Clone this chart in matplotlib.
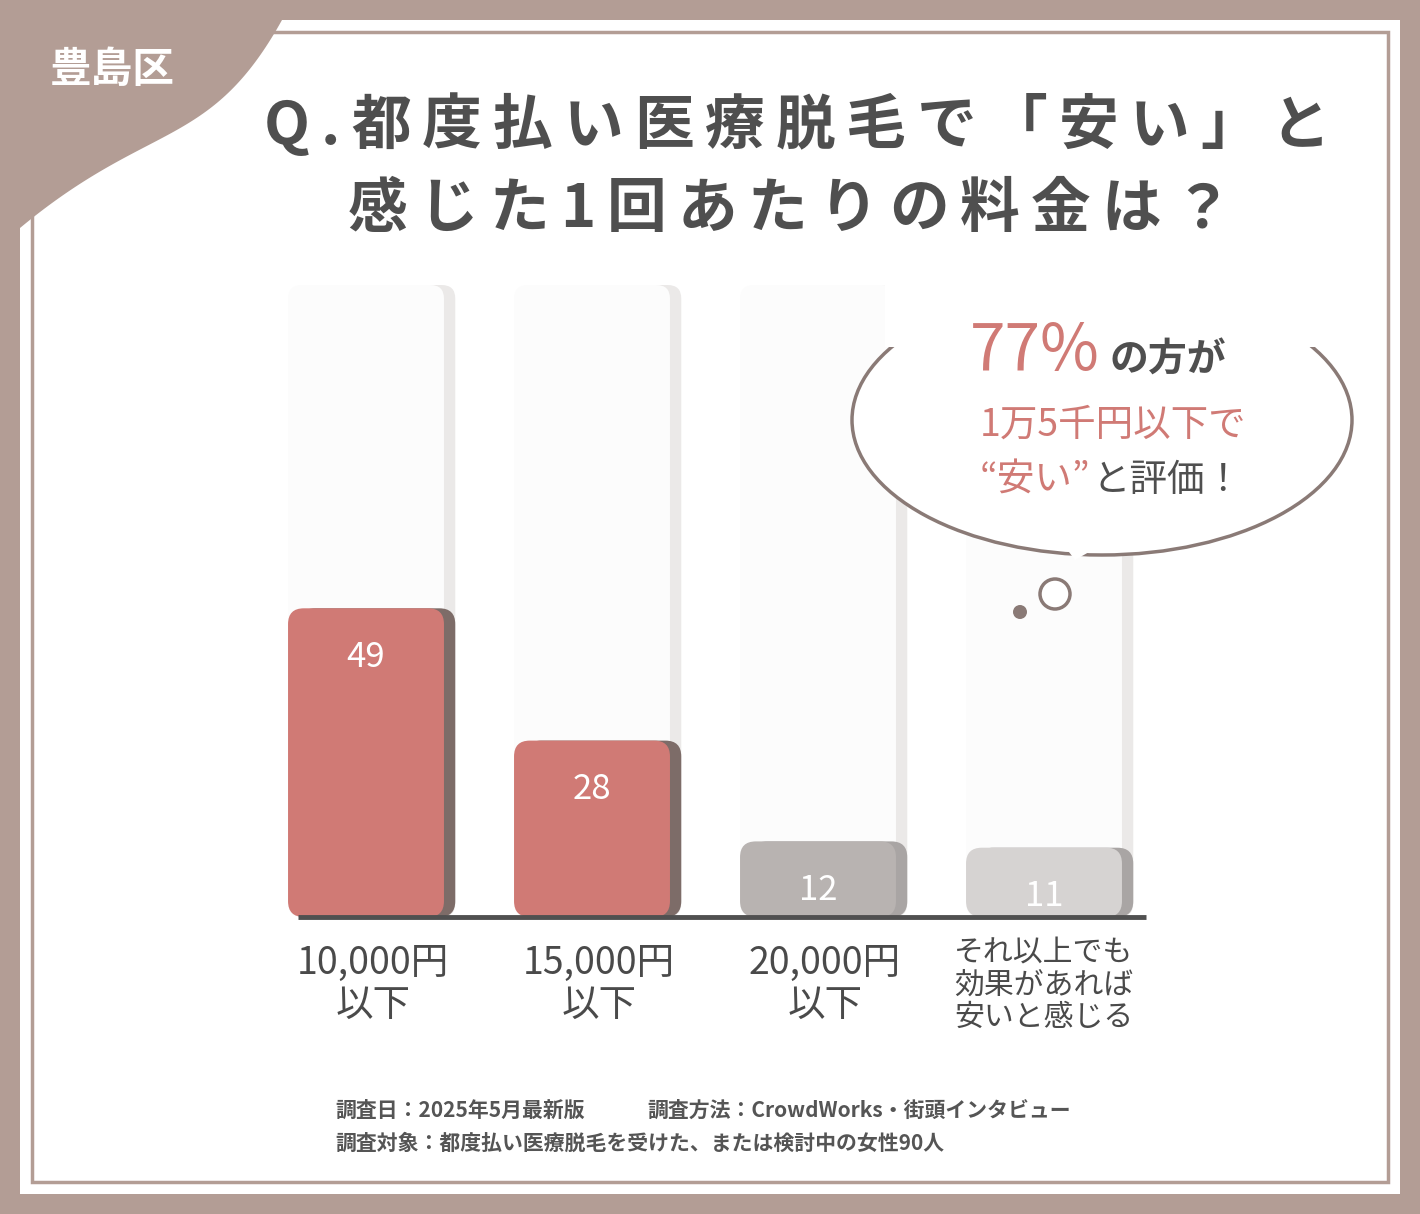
import matplotlib
matplotlib.use("Agg")
import matplotlib.pyplot as plt
from matplotlib.patches import FancyBboxPatch, Rectangle, Polygon, Ellipse, Circle
import numpy as np

plt.rcParams["font.family"] = "Noto Sans CJK JP"

# data
categories = ["10,000円\n以下", "15,000円\n以下", "20,000円\n以下", "それ以上でも\n効果があれば\n安いと感じる"]
values = [49, 28, 12, 11]
bar_colors = ["#d07a75", "#d07a75", "#b8b3b1", "#d6d3d2"]

W, H = 1420, 1214
fig = plt.figure(figsize=(W / 100, H / 100), dpi=100)
fig.patch.set_facecolor("#b39d95")


def pixel_axes(z):
    a = fig.add_axes([0, 0, 1, 1], zorder=z)
    a.set_xlim(0, W)
    a.set_ylim(H, 0)
    a.axis("off")
    a.patch.set_alpha(0)
    return a


def tracked_text(a, xc, y, s, track, **kw):
    # draw text char by char with extra letter spacing, centred on xc
    r = fig.canvas.get_renderer()
    widths = []
    for ch in s:
        tt = a.text(0, 0, ch, **kw)
        widths.append(tt.get_window_extent(r).width)
        tt.remove()
    total = sum(widths) + track * (len(s) - 1)
    xx = xc - total / 2
    for ch, w in zip(s, widths):
        a.text(xx, y, ch, ha="left", va="center", **kw)
        xx += w + track


bg = pixel_axes(0)
bg.add_patch(Rectangle((20, 20), 1380, 1174, facecolor="white", edgecolor="none"))
bg.add_patch(Rectangle((32, 32), 1356, 1150, facecolor="none", edgecolor="#b39d95", lw=2.5))

# corner blob
t = np.linspace(0, 1, 80)
p0, p1, p2, p3 = np.array([282, 20]), np.array([210, 150]), np.array([150, 120]), np.array([20, 228])
curve = ((1 - t) ** 3)[:, None] * p0 + (3 * (1 - t) ** 2 * t)[:, None] * p1 + \
        (3 * (1 - t) * t ** 2)[:, None] * p2 + (t ** 3)[:, None] * p3
pts = [(0, 0), (282, 0)] + [tuple(p) for p in curve] + [(0, 228)]
bg.add_patch(Polygon(pts, closed=True, facecolor="#b39d95", edgecolor="none", zorder=3))
bg.text(112, 70, "豊島区", color="white", fontsize=30, fontweight="bold", ha="center", va="center", zorder=4)

# title
title_col = "#4f4f4f"
tracked_text(bg, 797, 127, "Q.都度払い医療脱毛で「安い」と", 11, color=title_col, fontsize=43, fontweight="bold")
tracked_text(bg, 790, 210, "感じた1回あたりの料金は？", 11, color=title_col, fontsize=43, fontweight="bold")

# chart axes: value 0 at y=917px, 6.3 px per unit
px_per_unit = 6.3
top_px = 285
ymax = (917 - top_px) / px_per_unit
left_px, right_px = 253, 1157
ax = fig.add_axes([left_px / W, 1 - 917 / H, (right_px - left_px) / W, (917 - top_px) / H], zorder=1)
ax.set_xlim(-0.5, 3.5)
ax.set_ylim(0, ymax)
ax.axis("off")
ax.patch.set_alpha(0)

bw = 0.69
aspect = ((1 / px_per_unit) / (1 / 226.0))
x = np.arange(len(values))

# background tracks
for i in x:
    ax.add_patch(FancyBboxPatch((i - bw / 2 + 0.05, 0), bw, ymax, boxstyle="round,pad=0,rounding_size=0.06",
                                mutation_aspect=aspect, facecolor="#ebe9e8", edgecolor="none", zorder=1))
    ax.add_patch(FancyBboxPatch((i - bw / 2, 0), bw, ymax, boxstyle="round,pad=0,rounding_size=0.06",
                                mutation_aspect=aspect, facecolor="#fcfcfc", edgecolor="none", zorder=1.5))

bars = ax.bar(x, values, width=bw, color="none")
for b, v, c in zip(bars, values, bar_colors):
    bx, bwid = b.get_x(), b.get_width()
    shadow = "#7d6c68" if c == "#d07a75" else "#a9a5a4"
    ax.add_patch(FancyBboxPatch((bx + 0.05, 0), bwid, v, boxstyle="round,pad=0,rounding_size=0.07",
                                mutation_aspect=aspect, facecolor=shadow, edgecolor="none", zorder=2))
    ax.add_patch(FancyBboxPatch((bx, 0), bwid, v, boxstyle="round,pad=0,rounding_size=0.07",
                                mutation_aspect=aspect, facecolor=c, edgecolor="none", zorder=3))
    ax.text(b.get_x() + bwid / 2, v - 7.8, str(v), color="white", fontsize=25, ha="center", va="center", zorder=4)

ax.plot([-0.3, 3.45], [0, 0], color="#505050", lw=3.5, zorder=5, solid_capstyle="butt", clip_on=False)

# category labels
for i, lab in enumerate(categories):
    if i < 3:
        ax.text(i + 0.03, -4.2, lab, color="#4a4a4a", fontsize=27, ha="center", va="top",
                linespacing=1.1, clip_on=False)
    else:
        ax.text(i, -3.3, lab, color="#4a4a4a", fontsize=21.5, ha="center", va="top",
                linespacing=1.05, clip_on=False)

# speech bubble on top
fg = pixel_axes(2)
edge = "#8a7a76"
fg.add_patch(Ellipse((1102, 420), 500, 270, facecolor="white", edgecolor=edge, lw=2.5, zorder=6))
fg.add_patch(Polygon([(1060, 540), (1110, 540), (1075, 560)], facecolor="white", edgecolor="none", zorder=7))
fg.add_patch(Rectangle((885, 282), 440, 65, facecolor="white", edgecolor="none", zorder=7))
fg.add_patch(Circle((1055, 594), 15, facecolor="white", edgecolor=edge, lw=2.5, zorder=6))
fg.add_patch(Circle((1020, 612), 7, facecolor=edge, edgecolor="none", zorder=6))
pink = "#d07a75"
fg.text(1100, 352, "77%", color=pink, fontsize=46, ha="right", va="center", zorder=8)
fg.text(1110, 360, "の方が", color=title_col, fontsize=28, fontweight="bold", ha="left", va="center", zorder=8)
fg.text(1113, 425, "1万5千円以下で", color=pink, fontsize=27, ha="center", va="center", zorder=8)
fg.text(1090, 480, "“安い”", color=pink, fontsize=27, ha="right", va="center", zorder=8)
fg.text(1092, 480, "と評価！", color=title_col, fontsize=27, ha="left", va="center", zorder=8)

# footer
fs = 15
fg.text(335, 1110, "調査日：2025年5月最新版", color="#555555", fontsize=fs, fontweight="bold", ha="left", va="center")
fg.text(647, 1110, "調査方法：CrowdWorks・街頭インタビュー", color="#555555", fontsize=fs, fontweight="bold",
        ha="left", va="center")
fg.text(335, 1143, "調査対象：都度払い医療脱毛を受けた、または検討中の女性90人", color="#555555", fontsize=fs,
        fontweight="bold", ha="left", va="center")

fig.savefig("out.png", dpi=100, facecolor=fig.get_facecolor())
